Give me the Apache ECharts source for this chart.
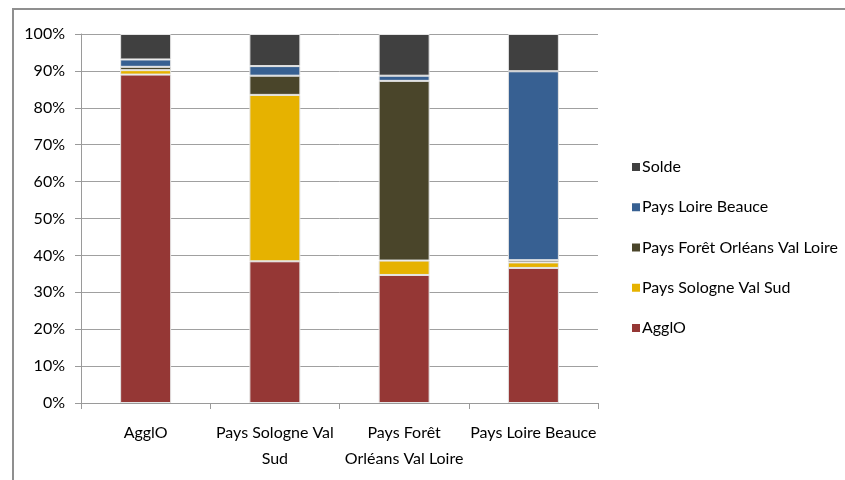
<!DOCTYPE html>
<html>
<head>
<meta charset="utf-8">
<script src="https://cdn.jsdelivr.net/npm/echarts@6/dist/echarts.min.js"></script>
<style>
  html, body { margin: 0; padding: 0; background: #fff; }
  #chart { width: 845px; height: 480px; }
</style>
</head>
<body>
<div id="chart"></div>
<script>
// Destination categories (x axis), with line breaks as shown under the axis
const categories = ['AgglO', 'Pays Sologne Val\nSud', 'Pays Forêt\nOrléans Val Loire', 'Pays Loire Beauce'];

// Share (%) of each origin within each destination
const agglo        = [89.0, 38.4, 34.7, 36.6];
const sologne      = [1.2, 45.1, 3.9, 1.5];
const foret        = [0.9, 5.2, 48.7, 0.6];
const loireBeauce  = [2.0, 2.6, 1.4, 51.2];
const solde        = [6.9, 8.7, 11.3, 10.1];

const yTicks = [0, 10, 20, 30, 40, 50, 60, 70, 80, 90, 100];

const FONT = 'Lato, "Liberation Sans", Arial, sans-serif';
const TEXT = '#000';
const FS = 16;

const seriesDefs = [
  { name: 'AgglO', data: agglo, color: '#953735' },
  { name: 'Pays Sologne Val Sud', data: sologne, color: '#E6B200' },
  { name: 'Pays Forêt Orléans Val Loire', data: foret, color: '#4A452A' },
  { name: 'Pays Loire Beauce', data: loireBeauce, color: '#376092' },
  { name: 'Solde', data: solde, color: '#404040' }
];

const chart = echarts.init(document.getElementById('chart'), null, { renderer: 'canvas' });

chart.setOption({
  animation: false,
  backgroundColor: '#fff',
  textStyle: { fontFamily: FONT },
  graphic: [{
    type: 'rect',
    shape: { x: 13, y: 9, width: 900, height: 600 },
    style: { fill: 'none', stroke: '#8f8f8f', lineWidth: 2 },
    silent: true,
    z: -10
  }],
  grid: { left: 81, right: 247, top: 34, bottom: 77 },
  legend: {
    orient: 'vertical',
    left: 627,
    top: 152,
    icon: 'rect',
    itemWidth: 8,
    itemHeight: 8,
    itemGap: 20.25,
    itemStyle: { borderWidth: 0 },
    data: seriesDefs.map(s => s.name).reverse(),
    textStyle: { fontFamily: FONT, fontSize: FS, color: TEXT, lineHeight: 20, padding: [0, 0, 0, -3] }
  },
  xAxis: {
    type: 'category',
    data: categories,
    boundaryGap: true,
    axisLine: { lineStyle: { color: '#9a9a9a', width: 1 } },
    axisTick: { show: true, interval: 0, length: 6, lineStyle: { color: '#9a9a9a' } },
    axisLabel: {
      interval: 0,
      margin: 17,
      fontFamily: FONT,
      fontSize: FS,
      lineHeight: 26,
      color: TEXT
    }
  },
  yAxis: {
    type: 'value',
    min: yTicks[0],
    max: yTicks[yTicks.length - 1],
    interval: 10,
    axisLine: { show: true, lineStyle: { color: '#9a9a9a', width: 1 } },
    axisTick: { show: true, length: 6, lineStyle: { color: '#9a9a9a' } },
    splitLine: { lineStyle: { color: '#a0a0a0', width: 1 } },
    axisLabel: {
      formatter: '{value}%',
      margin: 16,
      fontFamily: FONT,
      fontSize: FS,
      color: TEXT
    }
  },
  series: seriesDefs.map(s => ({
    name: s.name,
    type: 'bar',
    stack: 'total',
    barWidth: 51,
    data: s.data,
    itemStyle: { color: s.color, borderColor: '#e4e4e4', borderWidth: 1 }
  }))
});
</script>
</body>
</html>
